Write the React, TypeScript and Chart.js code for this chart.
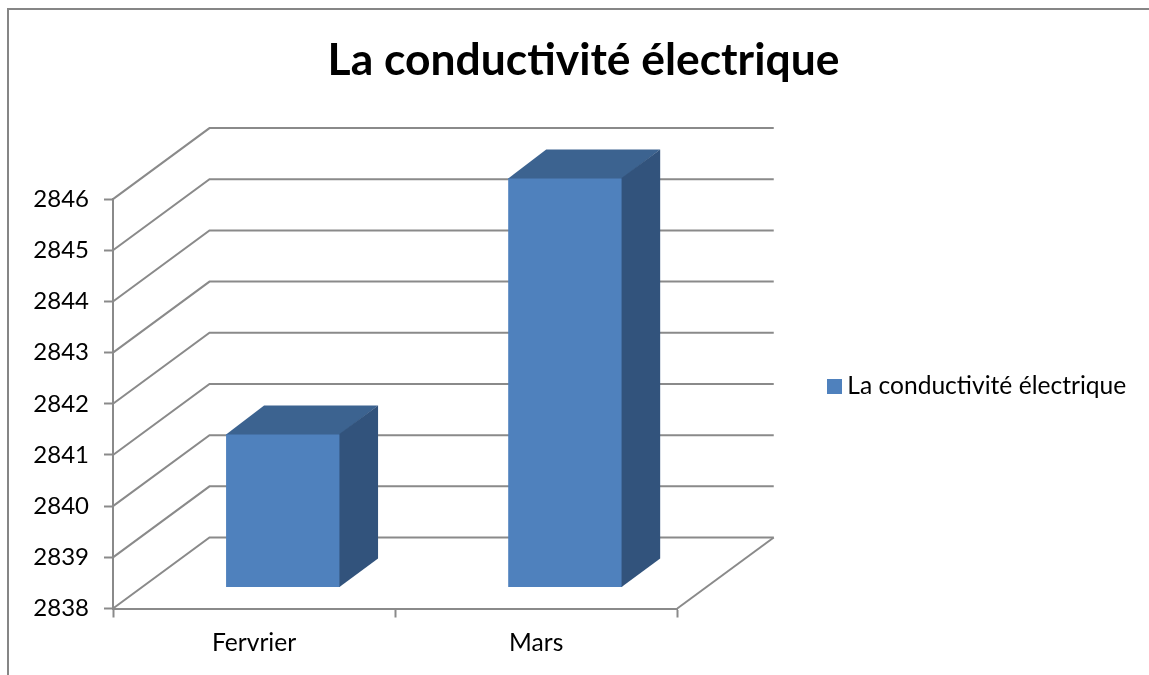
import React, { useEffect, useRef } from "react";
import { Chart, registerables } from "chart.js";

Chart.register(...registerables);

const categories = ["Fervrier", "Mars"];
const seriesName = "La conductivité électrique";
const seriesValues = [2841, 2846];
const yMin = 2838;
const yMax = 2846;
const yStep = 1;

const FONT = "Lato, Carlito, sans-serif";
const FRONT = "#4f81bd";
const SIDE = "#32537c";
const TOP = "#3c6390";
const GRID = "#8a8a8a";
const WALL_DX = 96.5;
const WALL_DY = -71;
const BAR_DX = 29;
const BAR_DY = -21;
const DEPTH_DX = 38;
const DEPTH_DY = -28.5;

const threeD = {
  id: "threeD",
  beforeDraw(chart: any) {
    const { ctx, width, height } = chart;
    ctx.save();
    ctx.fillStyle = "#ffffff";
    ctx.fillRect(0, 0, width, height);
    ctx.strokeStyle = "#868686";
    ctx.lineWidth = 2;
    ctx.beginPath();
    ctx.moveTo(8, height);
    ctx.lineTo(8, 9);
    ctx.lineTo(width, 9);
    ctx.stroke();
    ctx.restore();
  },
  afterLayout(chart: any) {
    const title = chart.titleBlock;
    const w = title.right - title.left;
    title.left = 583.5 - w / 2;
    title.right = 583.5 + w / 2;
    const lg = chart.legend;
    lg.left = 824;
    lg.right = 1149;
    lg.top = 356;
    lg.bottom = 416;
  },
  beforeDatasetsDraw(chart: any) {
    const { ctx, chartArea } = chart;
    const y = chart.scales.y;
    ctx.save();
    ctx.strokeStyle = GRID;
    ctx.lineWidth = 2;
    ctx.lineJoin = "miter";
    for (const t of y.ticks) {
      const py = y.getPixelForValue(t.value);
      ctx.beginPath();
      ctx.moveTo(chartArea.left, py);
      ctx.lineTo(chartArea.left + WALL_DX, py + WALL_DY);
      ctx.lineTo(chartArea.right + WALL_DX, py + WALL_DY);
      ctx.stroke();
    }
    ctx.beginPath();
    ctx.moveTo(chartArea.right, chartArea.bottom);
    ctx.lineTo(chartArea.right + WALL_DX, chartArea.bottom + WALL_DY);
    ctx.stroke();
    ctx.restore();
    ctx.save();
    ctx.translate(BAR_DX, BAR_DY);
  },
  afterDatasetsDraw(chart: any) {
    const { ctx } = chart;
    const bars = chart.getDatasetMeta(0).data;
    for (const b of bars) {
      const l = b.x - b.width / 2;
      const r = b.x + b.width / 2;
      const t = b.y;
      const bt = b.base;
      ctx.fillStyle = TOP;
      ctx.beginPath();
      ctx.moveTo(l, t + 0.5);
      ctx.lineTo(l + DEPTH_DX, t + DEPTH_DY);
      ctx.lineTo(r + DEPTH_DX, t + DEPTH_DY);
      ctx.lineTo(r, t + 0.5);
      ctx.closePath();
      ctx.fill();
      ctx.fillStyle = SIDE;
      ctx.beginPath();
      ctx.moveTo(r - 0.6, t);
      ctx.lineTo(r + DEPTH_DX, t + DEPTH_DY);
      ctx.lineTo(r + DEPTH_DX, bt + DEPTH_DY);
      ctx.lineTo(r - 0.6, bt);
      ctx.closePath();
      ctx.fill();
    }
    ctx.restore();
  },
};

export default function App() {
  const ref = useRef<HTMLCanvasElement>(null);
  useEffect(() => {
    const marker = document.createElement("canvas");
    marker.width = 15;
    marker.height = 15;
    const mctx = marker.getContext("2d")!;
    mctx.fillStyle = FRONT;
    mctx.fillRect(0, 0, 15, 15);

    const ctx2d: any = ref.current!.getContext("2d");
    ctx2d.letterSpacing = "0.01px";

    const chart = new Chart(ref.current!, {
      type: "bar",
      data: {
        labels: categories,
        datasets: [
          {
            label: seriesName,
            data: seriesValues,
            base: yMin,
            backgroundColor: FRONT,
            borderWidth: 0,
            barPercentage: 0.404,
            categoryPercentage: 1,
            clip: false,
          } as any,
        ],
      },
      plugins: [threeD],
      options: {
        animation: false,
        responsive: false,
        layout: { padding: { top: 0, left: 0, right: 246, bottom: 0 } },
        plugins: {
          tooltip: { enabled: false },
          title: {
            display: true,
            text: seriesName,
            color: "#000000",
            font: { family: FONT, size: 44.4, weight: "bold", lineHeight: 1.2 },
            padding: { top: 34, bottom: 111.8 },
          },
          legend: {
            display: true,
            position: "right",
            labels: {
              color: "#000000",
              font: { family: FONT, size: 24.6 },
              usePointStyle: true,
              pointStyle: marker,
              boxWidth: 1,
              boxHeight: 15,
              padding: 10,
            },
          },
        },
        scales: {
          x: {
            type: "category",
            offset: true,
            afterFit(s: any) {
              s.height = 66.5;
            },
            grid: {
              offset: true,
              drawOnChartArea: false,
              drawTicks: true,
              tickLength: 9,
              tickColor: GRID,
              tickWidth: 2,
            },
            border: { display: true, color: GRID, width: 2 },
            ticks: {
              color: "#000000",
              font: { family: FONT, size: 24.6 },
              padding: 11,
              maxRotation: 0,
            },
          },
          y: {
            type: "linear",
            min: yMin,
            max: yMax,
            afterFit(s: any) {
              s.width = 113;
            },
            grid: {
              drawOnChartArea: false,
              drawTicks: true,
              tickLength: 9,
              tickColor: GRID,
              tickWidth: 2,
            },
            border: { display: true, color: GRID, width: 2 },
            ticks: {
              stepSize: yStep,
              color: "#000000",
              font: { family: FONT, size: 24 },
              padding: 15,
              callback: (v: any) => String(v),
            },
          },
        },
      } as any,
    });
    return () => chart.destroy();
  }, []);
  return (
    <canvas
      ref={ref}
      width={1149}
      height={675}
      style={{ position: "absolute", left: 0, top: 0, display: "block" }}
    />
  );
}
